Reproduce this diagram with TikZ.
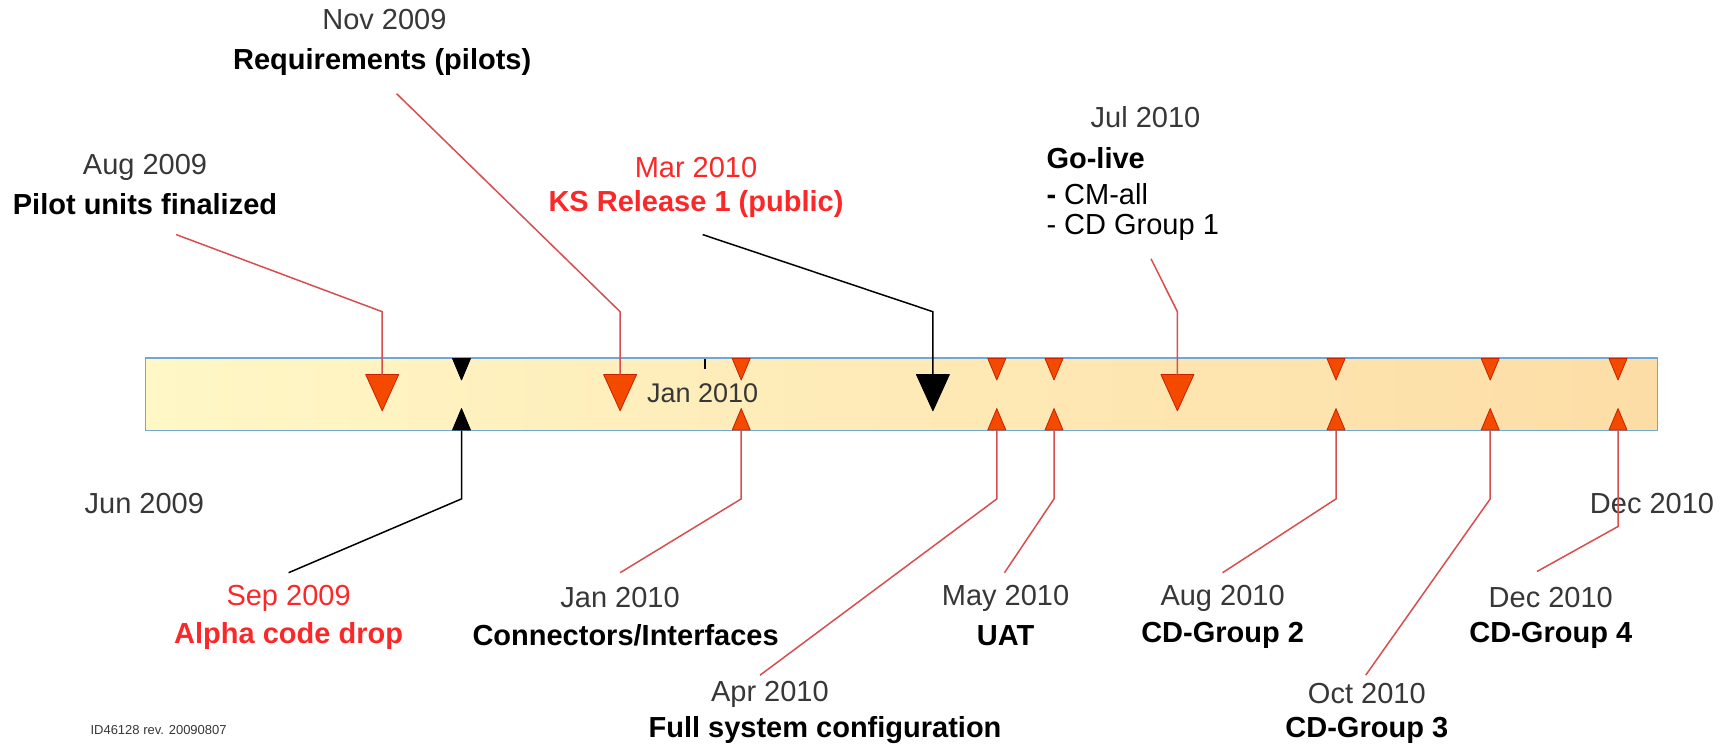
\documentclass[tikz,border=0pt]{standalone}
\usepackage{fontspec}
\setmainfont{Liberation Sans}
\begin{document}
\definecolor{linered}{RGB}{214,78,78}
\definecolor{trifill}{RGB}{244,74,0}
\definecolor{triedge}{RGB}{200,32,0}
\definecolor{datetxt}{RGB}{55,55,55}
\definecolor{hired}{RGB}{250,40,40}
\definecolor{barleft}{RGB}{255,247,198}
\definecolor{barright}{RGB}{253,221,166}
\definecolor{baredge}{RGB}{110,168,215}
\begin{tikzpicture}[x=1pt,y=-1pt,
  datelbl/.style={font=\fontsize{29}{33}\selectfont, text=datetxt, inner sep=0pt},
  titlelbl/.style={font=\fontsize{29}{33}\selectfont\bfseries, text=black, inner sep=0pt},
  redlbl/.style={text=hired},
  callred/.style={draw=linered, line width=1.5pt},
  callblack/.style={draw=black, line width=1.5pt},
  redmark/.style={fill=trifill, draw=triedge, line width=0.8pt, line join=round},
  blackmark/.style={fill=black, draw=black, line width=0.8pt, line join=round}]
\useasboundingbox (0,0) rectangle (1727,749);

% timeline bar
\shade[left color=barleft, right color=barright] (145.4,358) rectangle (1657.6,430.6);
\draw[baredge, line width=1.5pt] (145.4,358) rectangle (1657.6,430.6);
\draw[black, line width=1.2pt] (704.9,359) -- (704.9,369);
\node[datelbl, font=\fontsize{27}{31}\selectfont] (janbar) at (702.7,393.2) {Jan 2010};

% large markers (from above)
\newcommand\bigmarker[3]{%
  \coordinate (#1) at (#2,374.5);
  \path[#3] (#2-16.5,374.5) -- (#2+16.5,374.5) -- (#2,410.8) -- cycle;}
\bigmarker{aug}{382.2}{redmark}
\bigmarker{nov}{620.1}{redmark}
\bigmarker{mar}{932.9}{blackmark}
\bigmarker{jul}{1177.4}{redmark}

% small marker pairs
\newcommand\pairmarker[3]{%
  \coordinate (#1) at (#2,430.6);
  \path[#3] (#2-9,358.5) -- (#2+9,358.5) -- (#2,380) -- cycle;
  \path[#3] (#2-9,430) -- (#2+9,430) -- (#2,408.6) -- cycle;}
\pairmarker{sep}{461.5}{blackmark}
\pairmarker{jan}{741.2}{redmark}
\pairmarker{apr}{996.8}{redmark}
\pairmarker{may}{1054.0}{redmark}
\pairmarker{augb}{1336.0}{redmark}
\pairmarker{oct}{1490.2}{redmark}
\pairmarker{dec}{1618.0}{redmark}

% upper labels
\node[datelbl] (augd) at (145,167.4) {Aug 2009};
\node[titlelbl] (augt) at (145,203.8) {Pilot units finalized};
\node[datelbl] (novd) at (384.4,19.8) {Nov 2009};
\node[titlelbl] (novt) at (382.2,61.7) {Requirements (pilots)};
\node[datelbl, redlbl] (mard) at (696,168) {Mar 2010};
\node[titlelbl, redlbl] (mart) at (696,204) {KS Release 1 (public)};
\node[datelbl] (juld) at (1145.5,116.7) {Jul 2010};
\node[titlelbl, anchor=west] (jult) at (1046.3,158.6) {Go-live};
\node[datelbl, text=black, anchor=west] (jula) at (1046.3,193.8) {\textbf{-} CM-all};
\node[datelbl, text=black, anchor=west] (julb) at (1046.3,226.9) {- CD Group 1};

% upper connectors
\coordinate (augs) at (176.2,234.6);
\coordinate (novs) at (396.5,93.6);
\coordinate (mars) at (702.7,234.6);
\coordinate (juls) at (1151,258.8);
\draw[callred] (augs) -- (382.2,311.7) -- (aug);
\draw[callred] (novs) -- (620.1,311.7) -- (nov);
\draw[callblack] (mars) -- (932.9,311.7) -- (mar);
\draw[callred] (juls) -- (1177.4,311.7) -- (jul);

% end dates of the span
\node[datelbl] (start) at (144.3,503.3) {Jun 2009};
\node[datelbl] (finish) at (1652,503.3) {Dec 2010};

% lower labels
\node[datelbl, redlbl] (sepd) at (288.6,598) {Sep 2009};
\node[titlelbl, redlbl] (sept) at (288.6,635.5) {Alpha code drop};
\node[datelbl] (jand) at (620.1,598) {Jan 2010};
\node[titlelbl] (jant) at (625.6,635.5) {Connectors/Interfaces};
\node[datelbl] (aprd) at (769.9,693.9) {Apr 2010};
\node[titlelbl] (aprt) at (825,730.2) {Full system configuration};
\node[datelbl] (mayd) at (1005.6,598) {May 2010};
\node[titlelbl] (mayt) at (1005.6,635.5) {UAT};
\node[datelbl] (augbd) at (1222.6,598) {Aug 2010};
\node[titlelbl] (augbt) at (1222.6,635.5) {CD-Group 2};
\node[datelbl] (octd) at (1366.8,693.9) {Oct 2010};
\node[titlelbl] (octt) at (1366.8,730.2) {CD-Group 3};
\node[datelbl] (decd) at (1550.8,598) {Dec 2010};
\node[titlelbl] (dect) at (1550.8,635.5) {CD-Group 4};

% lower connectors
\coordinate (sepe) at (288.6,572.7);
\coordinate (jane) at (620.1,572.7);
\coordinate (apre) at (760,675.2);
\coordinate (maye) at (1004.5,572.7);
\coordinate (augbe) at (1222.6,572.7);
\coordinate (octe) at (1365.7,675.2);
\coordinate (dece) at (1537,571.5);
\draw[callblack] (sep) -- (461.5,498.9) -- (sepe);
\draw[callred] (jan) -- (741.2,498.9) -- (jane);
\draw[callred] (apr) -- (996.8,498.9) -- (apre);
\draw[callred] (may) -- (1054.0,498.9) -- (maye);
\draw[callred] (augb) -- (1336.0,498.9) -- (augbe);
\draw[callred] (oct) -- (1490.2,498.9) -- (octe);
\draw[callred] (dec) -- (1618.0,526.5) -- (dece);

% document id
\node[inner sep=0pt, text=datetxt, font=\fontsize{13}{15}\selectfont] (docid) at (158.6,730.2) {ID46128 rev. 20090807};
\end{tikzpicture}
\end{document}
